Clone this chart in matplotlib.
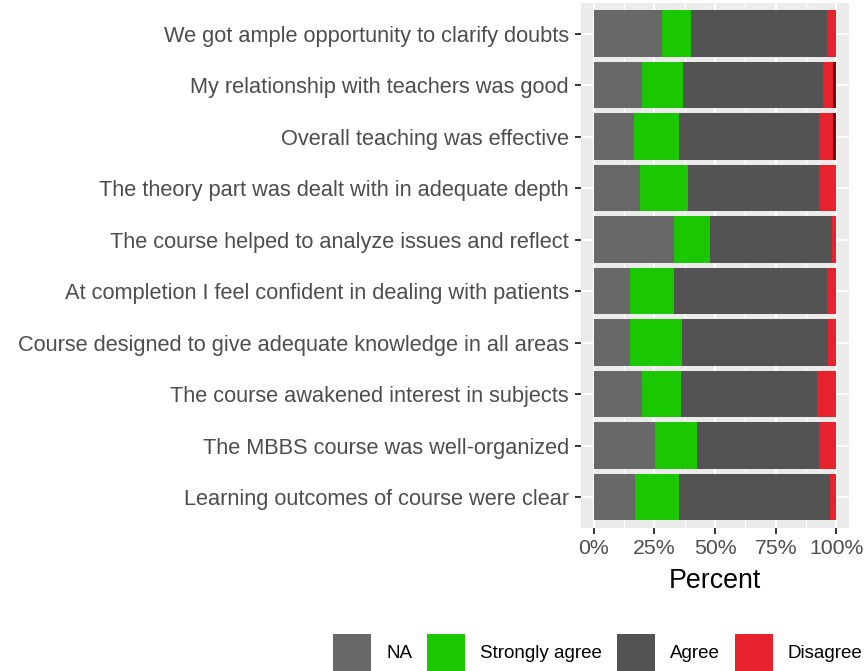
import matplotlib
matplotlib.use("Agg")
import matplotlib.pyplot as plt
from matplotlib.patches import Rectangle
import numpy as np

plt.rcParams['font.family'] = ['Liberation Sans', 'DejaVu Sans']

# Survey items (top to bottom as shown)
items = [
    "We got ample opportunity to clarify doubts",
    "My relationship with teachers was good",
    "Overall teaching was effective",
    "The theory part was dealt with in adequate depth",
    "The course helped to analyze issues and reflect",
    "At completion I feel confident in dealing with patients",
    "Course designed to give adequate knowledge in all areas",
    "The course awakened interest in subjects",
    "The MBBS course was well-organized",
    "Learning outcomes of course were clear",
]

# Percent of responses per level
na_pct = [28, 20, 16.5, 19, 33, 15, 15, 20, 25.5, 17]
strongly_agree = [12, 17, 18.5, 20, 15, 18, 21.5, 16, 17, 18]
agree = [56, 57.5, 58, 54, 50, 63, 60, 56, 50.5, 62.5]
disagree = [4, 4, 5.5, 7, 2, 4, 3.5, 8, 7, 2.5]
strongly_disagree = [0, 1.5, 1.5, 0, 0, 0, 0, 0, 0, 0]

levels = ["NA", "Strongly agree", "Agree", "Disagree", "Strongly disagree"]
colors = ["#686868", "#1AC700", "#535353", "#E8222D", "#6E0F14"]
series = [na_pct, strongly_agree, agree, disagree, strongly_disagree]

W, H = 866, 671
fig = plt.figure(figsize=(W / 100, H / 100), dpi=100)
ax = fig.add_axes([581.4 / W, 1 - 528 / H, (848.6 - 581.4) / W, (528 - 2.6) / H])
ax.set_facecolor("#EBEBEB")

y = np.arange(len(items))[::-1]
left = np.zeros(len(items))
for name, vals, col in zip(levels, series, colors):
    vals = np.array(vals, dtype=float)
    ax.barh(y, vals, left=left, height=0.9, color=col, label=name, zorder=3)
    left += vals

ax.set_xlim(-5, 105)
ax.set_ylim(-0.6, len(items) - 0.4)
ax.set_xticks([0, 25, 50, 75, 100])
ax.set_xticklabels(["0%", "25%", "50%", "75%", "100%"])
ax.set_xticks([12.5, 37.5, 62.5, 87.5], minor=True)
ax.set_yticks(y)
ax.set_yticklabels(items)

ax.grid(True, which="major", color="white", linewidth=1.4, zorder=0)
ax.grid(True, which="minor", axis="x", color="white", linewidth=0.7, zorder=0)
ax.set_axisbelow(True)
for s in ax.spines.values():
    s.set_visible(False)
ax.tick_params(which="major", length=4.5, width=1.4, color="#333333",
               labelsize=15.3, labelcolor="#4D4D4D", pad=3.5)
ax.tick_params(axis="y", labelsize=15.7, pad=4.5)
ax.tick_params(which="minor", length=0)
ax.set_xlabel("Percent", fontsize=19.3, color="black", labelpad=7)

# Legend along the bottom (runs past the right edge as in the source)
fig.canvas.draw()
renderer = fig.canvas.get_renderer()
key = 38
x = 333
top = 634
for name, col in zip(levels, colors):
    fig.patches.append(Rectangle((x / W, 1 - (top + key) / H), key / W, key / H,
                                 transform=fig.transFigure, facecolor=col,
                                 edgecolor="none"))
    t = fig.text((x + key + 15) / W, 1 - (top + key / 2) / H, name,
                 fontsize=13.5, color="black", va="center", ha="left")
    tw = t.get_window_extent(renderer).width
    x = x + key + 15 + tw + 15

fig.savefig("out.png", dpi=100)
